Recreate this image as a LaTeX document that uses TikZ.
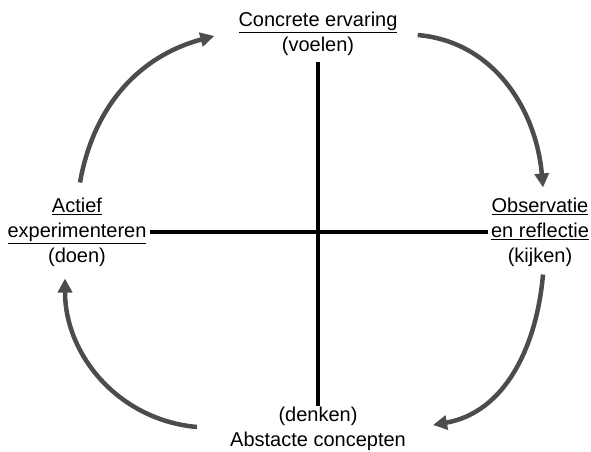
\documentclass[tikz,border=0pt]{standalone}
\usepackage{fontspec}
\setmainfont{Liberation Sans}
\usetikzlibrary{arrows.meta}
\newcommand{\ulin}[1]{\vtop{\hbox{#1}\kern1.2pt\hrule height 1.3pt}}

\begin{document}
\begin{tikzpicture}[x=1pt, y=1pt,
  lbl/.style={align=center, inner sep=0pt, font=\fontsize{20}{25}\selectfont},
  axis/.style={line width=4pt},
  cyc/.style={line width=4.5pt, draw=black!70, -{Triangle[length=14pt,width=14pt]}}]
\useasboundingbox (0,0) rectangle (591,451);

\node[lbl] (top) at (318,417) {\ulin{Concrete ervaring}\\(voelen)};
\node[lbl] (lft) at (77,219) {\ulin{Actief}\\\ulin{experimenteren}\\(doen)};
\node[lbl] (rgt) at (540,219) {\ulin{Observatie}\\\ulin{en reflectie}\\(kijken)};
\node[lbl] (bot) at (318,22) {(denken)\\Abstacte concepten};

% axes
\draw[axis, shorten <=6pt, shorten >=1pt] (top) -- (bot);
\draw[axis, shorten <=3pt, shorten >=3pt] (lft) -- (rgt);

% cycle
\draw[cyc] ([shift={(3,15)}]lft.north) to[out=80, in=195] ([shift={(-24,-2)}]top.west);
\draw[cyc] ([shift={(20,-1)}]top.east) to[out=-5, in=95] ([shift={(3,10)}]rgt.north);
\draw[cyc] ([shift={(3,-8)}]rgt.south) to[out=-95, in=10] ([shift={(27,4)}]bot.east);
\draw[cyc] ([shift={(-33,2)}]bot.west) to[out=175, in=-90] ([shift={(-12,-12)}]lft.south);
\end{tikzpicture}
\end{document}
